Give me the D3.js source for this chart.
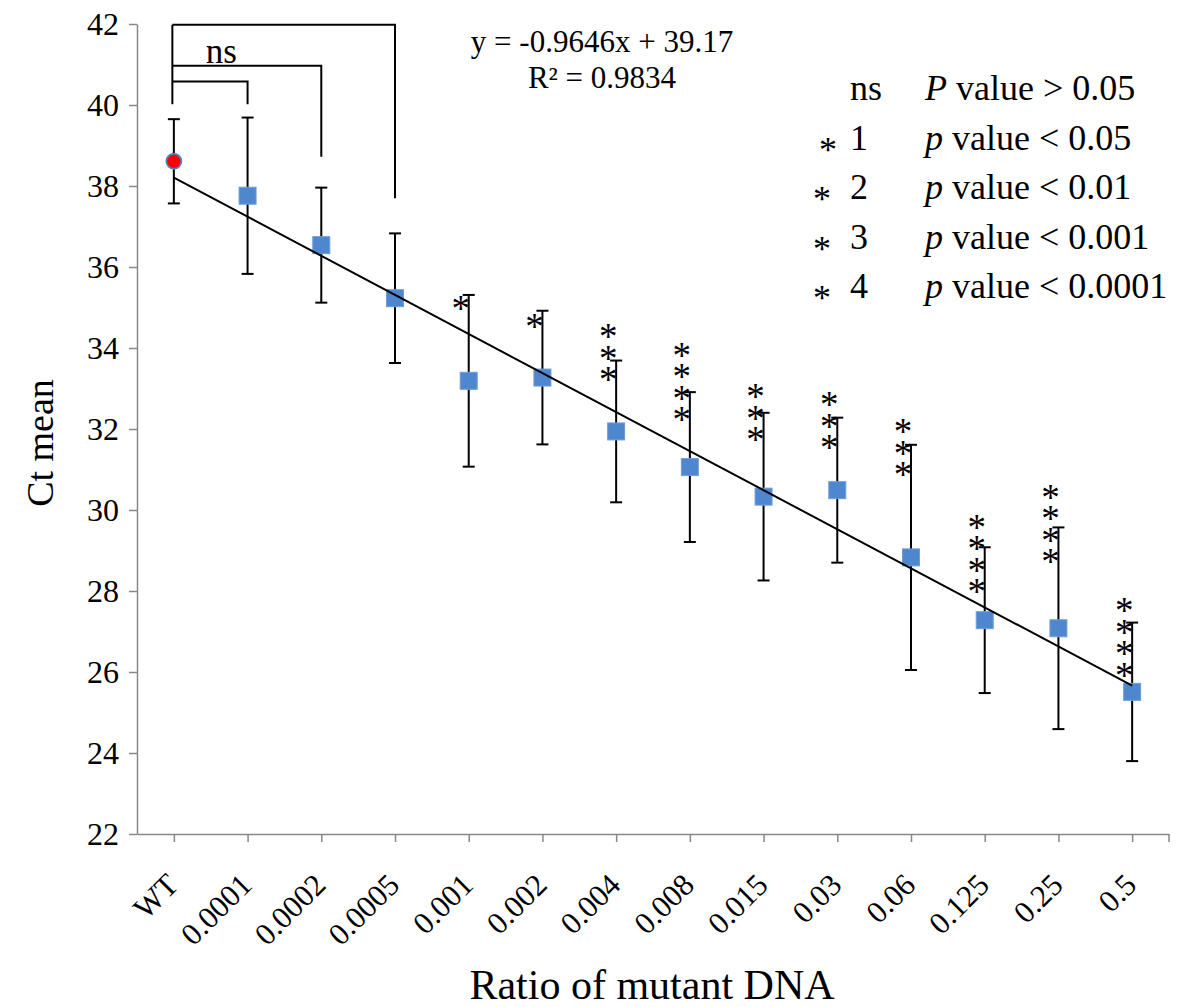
<!DOCTYPE html>
<html>
<head>
<meta charset="utf-8">
<script src="https://cdn.jsdelivr.net/npm/d3@7"></script>
<style>
  body { margin: 0; background: #fff; }
  svg { display: block; }
  svg text { font-family: "Liberation Serif", "Times New Roman", serif; }
</style>
</head>
<body>
<svg id="chart"></svg>
<script>
// categories on the x axis (ratio of mutant DNA)
const categories = ["WT", "0.0001", "0.0002", "0.0005", "0.001", "0.002", "0.004",
  "0.008", "0.015", "0.03", "0.06", "0.125", "0.25", "0.5"];

// Ct mean and error (+/-) per category
const ctMean = [38.61, 37.76, 36.54, 35.23, 33.19, 33.27, 31.94, 31.06, 30.33, 30.49, 28.83, 27.28, 27.08, 25.51];
const ctErr = [1.04, 1.93, 1.42, 1.60, 2.12, 1.65, 1.75, 1.85, 2.07, 1.79, 2.78, 1.80, 2.49, 1.71];

// significance stars per category, and the Ct level of the top star
const starCount = [0, 0, 0, 0, 1, 1, 3, 4, 3, 3, 3, 4, 4, 4];
const starTop = [null, null, null, null, 35.11, 34.65, 34.40, 33.95, 32.92, 32.72, 32.06, 29.70, 30.44, 27.64];

// "ns" brackets from WT: target category, bar level, lower end of right leg
const bracketTo = ["0.0001", "0.0002", "0.0005"];
const bracketTop = [40.58, 40.97, 41.98];
const bracketEnd = [40.02, 38.72, 37.70];

// linear trendline (Excel) and legend text
const trendSlope = -0.9646;
const trendIntercept = 39.17;
const equationLines = ["y = -0.9646x + 39.17", "R\u00B2 = 0.9834"];
const yTicks = [22, 24, 26, 28, 30, 32, 34, 36, 38, 40, 42];
const legendSymbols = ["ns", "1", "2", "3", "4"];
const legendP = ["P", "p", "p", "p", "p"];
const legendText = [" value > 0.05", " value < 0.05", " value < 0.01", " value < 0.001", " value < 0.0001"];

const WIDTH = 1180;
const HEIGHT = 1007;
const margin = { top: 24, right: 11, bottom: 173, left: 137 };
const SERIF = "'Liberation Serif', 'Times New Roman', serif";

const svg = d3.select("#chart").attr("width", WIDTH).attr("height", HEIGHT);

const x = d3.scalePoint()
  .domain(categories)
  .range([margin.left, WIDTH - margin.right])
  .padding(0.5);
const y = d3.scaleLinear()
  .domain([22, 42])
  .range([HEIGHT - margin.bottom, margin.top]);

const axisColor = "#888";

// Y axis
svg.append("g")
  .attr("transform", `translate(${margin.left},0)`)
  .call(d3.axisLeft(y).tickValues(yTicks).tickSize(8).tickSizeOuter(0).tickPadding(10))
  .attr("font-family", SERIF)
  .attr("font-size", 32)
  .call((g) => {
    g.select(".domain").attr("stroke", axisColor).attr("stroke-width", 1.5);
    g.selectAll(".tick line").attr("stroke", axisColor).attr("stroke-width", 1.5);
    g.selectAll(".tick text").attr("fill", "#000");
  });

// X axis
const xAxisY = y(22);
svg.append("g")
  .attr("transform", `translate(0,${xAxisY})`)
  .call(d3.axisBottom(x).tickSize(8).tickSizeOuter(0))
  .attr("font-family", SERIF)
  .attr("font-size", 31)
  .call((g) => {
    g.select(".domain").attr("stroke", axisColor).attr("stroke-width", 1.5);
    g.selectAll(".tick line").attr("stroke", axisColor).attr("stroke-width", 1.5);
    g.selectAll(".tick text")
      .attr("fill", "#000")
      .attr("text-anchor", "end")
      .attr("x", 0)
      .attr("y", 0)
      .attr("dy", "0.35em")
      .attr("transform", "translate(-2,45) rotate(-45)");
  });

// closing tick at the right end of the x axis
svg.append("line")
  .attr("x1", WIDTH - margin.right).attr("x2", WIDTH - margin.right)
  .attr("y1", xAxisY).attr("y2", xAxisY + 8)
  .attr("stroke", axisColor).attr("stroke-width", 1.5);

// Axis titles
svg.append("text")
  .attr("transform", "translate(53,443) rotate(-90)")
  .attr("text-anchor", "middle")
  .attr("font-size", 38)
  .text("Ct mean");

svg.append("text")
  .attr("x", 652)
  .attr("y", 999)
  .attr("text-anchor", "middle")
  .attr("font-size", 42)
  .text("Ratio of mutant DNA");

const rows = categories.map((c, i) => ({ cat: c, mean: ctMean[i], err: ctErr[i], i }));

// Error bars
const gErr = svg.append("g").attr("stroke", "#000").attr("stroke-width", 2);
rows.forEach((d) => {
  const cx = x(d.cat);
  gErr.append("line")
    .attr("x1", cx).attr("x2", cx)
    .attr("y1", y(d.mean + d.err)).attr("y2", y(d.mean - d.err));
  [d.mean + d.err, d.mean - d.err].forEach((v) => {
    gErr.append("line")
      .attr("x1", cx - 6).attr("x2", cx + 6)
      .attr("y1", y(v)).attr("y2", y(v));
  });
});

// Markers: red circle for WT, blue squares for the dilutions
const side = 17;
svg.append("g")
  .selectAll("rect")
  .data(rows.filter((d) => d.i > 0))
  .join("rect")
  .attr("x", (d) => x(d.cat) - side / 2)
  .attr("y", (d) => y(d.mean) - side / 2)
  .attr("width", side)
  .attr("height", side)
  .attr("fill", "#4F87CF")
  .attr("stroke", "#6F9DD8")
  .attr("stroke-width", 1);

svg.append("circle")
  .attr("cx", x(categories[0]))
  .attr("cy", y(ctMean[0]))
  .attr("r", 7.5)
  .attr("fill", "#FF0000")
  .attr("stroke", "#4F81BD")
  .attr("stroke-width", 1.8);

// Trendline over category index 1..n
const n = categories.length;
svg.append("line")
  .attr("x1", x(categories[0]))
  .attr("y1", y(trendSlope * 1 + trendIntercept))
  .attr("x2", x(categories[n - 1]))
  .attr("y2", y(trendSlope * n + trendIntercept))
  .attr("stroke", "#000")
  .attr("stroke-width", 2);

// Significance stars: one text per category, one tspan per star
const starGap = 21.5;
const gStars = svg.append("g").attr("font-size", 37).attr("text-anchor", "middle");
rows.filter((d) => starCount[d.i] > 0).forEach((d) => {
  const sx = x(d.cat) - 8;
  const t = gStars.append("text")
    .attr("x", sx)
    .attr("y", y(starTop[d.i]) + 17.5);
  d3.range(starCount[d.i]).forEach((k) => {
    t.append("tspan")
      .attr("x", sx)
      .attr("dy", k === 0 ? 0 : starGap)
      .text("*");
  });
});

// ns brackets
const gBr = svg.append("g").attr("stroke", "#000").attr("stroke-width", 2).attr("fill", "none");
const x0 = x(categories[0]) - 1.5;
gBr.append("line")
  .attr("x1", x0).attr("x2", x0)
  .attr("y1", y(d3.max(bracketTop))).attr("y2", y(d3.max(bracketEnd)));
bracketTo.forEach((c, i) => {
  gBr.append("path")
    .attr("d", `M${x0},${y(bracketTop[i])}H${x(c)}V${y(bracketEnd[i])}`);
});

svg.append("text")
  .attr("x", x(categories[0]) + 32)
  .attr("y", y(bracketTop[1]) - 3)
  .attr("font-size", 35)
  .text("ns");

// Trendline equation
svg.append("g")
  .attr("font-size", 31)
  .attr("text-anchor", "middle")
  .selectAll("text")
  .data(equationLines)
  .join("text")
  .attr("x", 602)
  .attr("y", (d, i) => 52 + i * 36)
  .text((d) => d);

// Legend of significance levels
const gLeg = svg.append("g").attr("font-size", 36);
legendSymbols.forEach((s, i) => {
  const by = 100 + i * 49.5;
  gLeg.append("text").attr("x", 850).attr("y", by).text(s);
  if (i > 0) {
    gLeg.append("text")
      .attr("x", i === 1 ? 828 : 822)
      .attr("y", by + 12)
      .attr("font-size", 36)
      .attr("text-anchor", "middle")
      .text("*");
  }
  const t = gLeg.append("text").attr("x", 925).attr("y", by);
  t.append("tspan").attr("font-style", "italic").text(legendP[i]);
  t.append("tspan").text(legendText[i]);
});

// make sure every label uses the serif face
svg.selectAll("text").style("font-family", SERIF);
</script>
</body>
</html>
